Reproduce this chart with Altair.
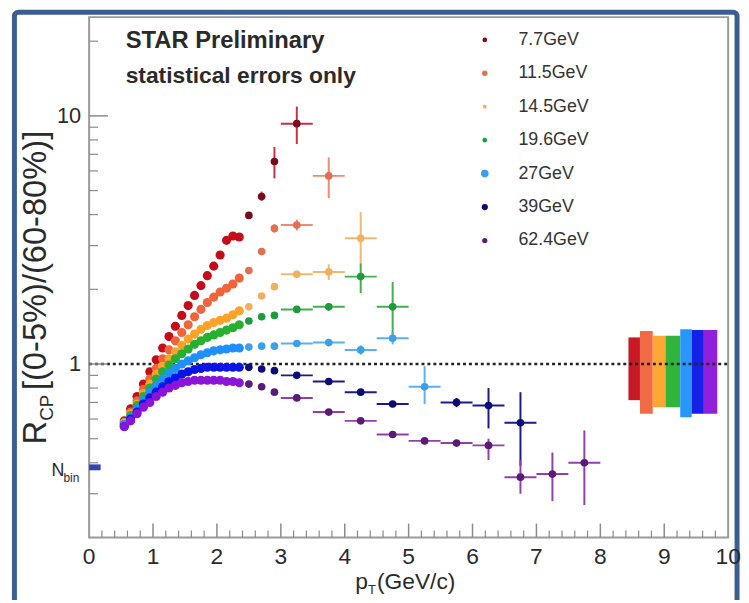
import altair as alt
import pandas as pd

# ---------------- data ----------------
energies = ["7.7GeV", "11.5GeV", "14.5GeV", "19.6GeV", "27GeV", "39GeV", "62.4GeV"]

band_colors = ["#c40d1a", "#f0643c", "#ffa22a", "#25b02f", "#1e90ff", "#0a14e6", "#8a14d8"]
point_colors = ["#7a0a1e", "#e0704f", "#f0b060", "#1f9a3c", "#3aa0e8", "#0c0c78", "#5a1a78"]
err_colors = ["#c83040", "#f08a70", "#f2b870", "#40b050", "#5ab0f0", "#1a1a8a", "#9040a8"]

# dense low-pT points (same pT grid for every energy)
pt_low = [0.55, 0.65, 0.75, 0.85, 0.95, 1.05, 1.15, 1.25, 1.35, 1.45,
          1.55, 1.65, 1.75, 1.85, 1.95, 2.05, 2.15, 2.25, 2.35]
low_7p7 = [0.59, 0.66, 0.74, 0.83, 0.93, 1.04, 1.16, 1.29, 1.42, 1.57,
           1.72, 1.89, 2.07, 2.27, 2.48, 2.75, 3.15, 3.28, 3.25]
low_11p5 = [0.58, 0.64, 0.71, 0.79, 0.87, 0.96, 1.05, 1.14, 1.24, 1.34,
            1.44, 1.55, 1.66, 1.77, 1.86, 1.95, 2.02, 2.10, 2.22]
low_14p5 = [0.58, 0.63, 0.69, 0.76, 0.83, 0.91, 0.98, 1.05, 1.12, 1.19,
            1.26, 1.32, 1.38, 1.43, 1.47, 1.50, 1.53, 1.58, 1.64]
low_19p6 = [0.57, 0.62, 0.68, 0.74, 0.80, 0.87, 0.93, 0.99, 1.05, 1.10,
            1.15, 1.20, 1.24, 1.28, 1.31, 1.34, 1.37, 1.40, 1.44]
low_27 = [0.57, 0.61, 0.66, 0.71, 0.77, 0.82, 0.87, 0.92, 0.96, 1.00,
          1.03, 1.06, 1.09, 1.11, 1.13, 1.14, 1.15, 1.16, 1.16]
low_39 = [0.56, 0.60, 0.64, 0.69, 0.73, 0.77, 0.81, 0.85, 0.88, 0.91,
          0.93, 0.95, 0.96, 0.97, 0.97, 0.97, 0.97, 0.97, 0.97]
low_62p4 = [0.56, 0.59, 0.63, 0.67, 0.70, 0.74, 0.77, 0.80, 0.82, 0.84,
            0.85, 0.86, 0.86, 0.86, 0.86, 0.86, 0.85, 0.85, 0.84]

# sparse high-pT points with statistical errors
hi_pt_7p7 = [2.5, 2.7, 2.9, 3.25]
hi_v_7p7 = [3.97, 4.73, 6.55, 9.3]
hi_lo_7p7 = [3.85, 4.55, 5.6, 7.7]
hi_hi_7p7 = [4.1, 4.95, 7.5, 10.9]
hi_xe_7p7 = [0, 0, 0, 0.25]

hi_pt_11p5 = [2.5, 2.7, 2.9, 3.25, 3.75]
hi_v_11p5 = [2.38, 2.84, 3.52, 3.63, 5.73]
hi_lo_11p5 = [2.32, 2.76, 3.38, 3.45, 4.66]
hi_hi_11p5 = [2.44, 2.92, 3.66, 3.82, 6.8]
hi_xe_11p5 = [0, 0, 0, 0.25, 0.25]

hi_pt_14p5 = [2.5, 2.7, 2.9, 3.25, 3.75, 4.25]
hi_v_14p5 = [1.70, 1.88, 2.05, 2.30, 2.35, 3.21]
hi_lo_14p5 = [1.67, 1.84, 2.0, 2.22, 2.18, 2.5]
hi_hi_14p5 = [1.73, 1.92, 2.1, 2.38, 2.52, 4.1]
hi_xe_14p5 = [0, 0, 0, 0.25, 0.25, 0.25]

hi_pt_19p6 = [2.5, 2.7, 2.9, 3.25, 3.75, 4.25, 4.75]
hi_v_19p6 = [1.49, 1.55, 1.57, 1.66, 1.70, 2.25, 1.70]
hi_lo_19p6 = [1.47, 1.53, 1.54, 1.62, 1.64, 1.93, 1.26]
hi_hi_19p6 = [1.51, 1.57, 1.60, 1.70, 1.76, 2.54, 2.14]
hi_xe_19p6 = [0, 0, 0, 0.25, 0.25, 0.25, 0.25]

hi_pt_27 = [2.5, 2.7, 2.9, 3.25, 3.75, 4.25, 4.75, 5.25]
hi_v_27 = [1.17, 1.18, 1.18, 1.21, 1.22, 1.14, 1.27, 0.81]
hi_lo_27 = [1.15, 1.16, 1.16, 1.18, 1.18, 1.09, 1.20, 0.69]
hi_hi_27 = [1.19, 1.20, 1.20, 1.24, 1.26, 1.19, 1.34, 0.98]
hi_xe_27 = [0, 0, 0, 0.25, 0.25, 0.25, 0.25, 0.25]

hi_pt_39 = [2.5, 2.7, 2.9, 3.25, 3.75, 4.25, 4.75, 5.75, 6.25, 6.75]
hi_v_39 = [0.97, 0.955, 0.94, 0.90, 0.85, 0.77, 0.69, 0.70, 0.68, 0.58]
hi_lo_39 = [0.95, 0.94, 0.92, 0.88, 0.83, 0.75, 0.67, 0.67, 0.55, 0.39]
hi_hi_39 = [0.99, 0.97, 0.96, 0.92, 0.87, 0.79, 0.71, 0.73, 0.80, 0.77]
hi_xe_39 = [0, 0, 0, 0.25, 0.25, 0.25, 0.25, 0.25, 0.25, 0.25]

hi_pt_62p4 = [2.5, 2.7, 2.9, 3.25, 3.75, 4.25, 4.75, 5.25, 5.75, 6.25, 6.75, 7.25, 7.75]
hi_v_62p4 = [0.83, 0.81, 0.77, 0.73, 0.64, 0.59, 0.52, 0.49, 0.48, 0.47, 0.35, 0.36, 0.40]
hi_lo_62p4 = [0.82, 0.80, 0.76, 0.72, 0.63, 0.58, 0.51, 0.48, 0.47, 0.41, 0.30, 0.28, 0.27]
hi_hi_62p4 = [0.84, 0.82, 0.78, 0.74, 0.65, 0.60, 0.53, 0.50, 0.49, 0.50, 0.41, 0.44, 0.54]
hi_xe_62p4 = [0, 0, 0, 0.25, 0.25, 0.25, 0.25, 0.25, 0.25, 0.25, 0.25, 0.25, 0.25]

# systematic-error boxes at right
sys_x0 = [8.44, 8.62, 8.82, 9.02, 9.25, 9.43, 9.62]
sys_x1 = [8.62, 8.82, 9.02, 9.25, 9.43, 9.62, 9.83]
sys_lo = [0.715, 0.63, 0.67, 0.67, 0.61, 0.63, 0.63]
sys_hi = [1.28, 1.36, 1.30, 1.30, 1.38, 1.37, 1.37]

# N_bin normalisation box
nbin_x = [0.0, 0.18]
nbin_y = [0.373, 0.394]

# axis ticks / labels
x_labels = [0, 1, 2, 3, 4, 5, 6, 7, 8, 9, 10]
y_labels = [1, 10]
x_major_ticks = [1, 2, 3, 4, 5, 6, 7, 8, 9]
x_minor_ticks = [i / 5 for i in range(1, 50) if i % 5]
y_major_ticks = [1, 10]
y_minor_ticks = [0.3, 0.4, 0.5, 0.6, 0.7, 0.8, 0.9, 2, 3, 4, 5, 6, 7, 8, 9, 20]

# ---------------- tables ----------------
lows = [low_7p7, low_11p5, low_14p5, low_19p6, low_27, low_39, low_62p4]
his = [
    (hi_pt_7p7, hi_v_7p7, hi_lo_7p7, hi_hi_7p7, hi_xe_7p7),
    (hi_pt_11p5, hi_v_11p5, hi_lo_11p5, hi_hi_11p5, hi_xe_11p5),
    (hi_pt_14p5, hi_v_14p5, hi_lo_14p5, hi_hi_14p5, hi_xe_14p5),
    (hi_pt_19p6, hi_v_19p6, hi_lo_19p6, hi_hi_19p6, hi_xe_19p6),
    (hi_pt_27, hi_v_27, hi_lo_27, hi_hi_27, hi_xe_27),
    (hi_pt_39, hi_v_39, hi_lo_39, hi_hi_39, hi_xe_39),
    (hi_pt_62p4, hi_v_62p4, hi_lo_62p4, hi_hi_62p4, hi_xe_62p4),
]

low_rows = []
for e, vals in zip(energies, lows):
    for p, v in zip(pt_low, vals):
        low_rows.append({"energy": e, "pt": p, "rcp": v})
low_df = pd.DataFrame(low_rows)

hi_rows = []
for e, (pts, vs, los, his_, xes) in zip(energies, his):
    for p, v, lo, hi, xe in zip(pts, vs, los, his_, xes):
        hi_rows.append({"energy": e, "pt": p, "rcp": v, "lo": lo, "hi": hi,
                        "xlo": p - xe, "xhi": p + xe})
hi_df = pd.DataFrame(hi_rows)

sys_df = pd.DataFrame({"energy": energies, "x0": sys_x0, "x1": sys_x1,
                       "lo": sys_lo, "hi": sys_hi})
nbin_df = pd.DataFrame({"x0": [nbin_x[0]], "x1": [nbin_x[1]],
                        "y0": [nbin_y[0]], "y1": [nbin_y[1]]})

# ---------------- layout ----------------
W, H = 646, 526
FONT = "Liberation Sans"
TXT = "#2a2a2a"

xscale = alt.Scale(domain=[0, 10], nice=False, zero=False)
yscale = alt.Scale(type="log", domain=[0.2, 25], nice=False)

col_band = alt.Color("energy:N", scale=alt.Scale(domain=energies, range=band_colors), legend=None)
col_err = alt.Stroke("energy:N", scale=alt.Scale(domain=energies, range=err_colors), legend=None)
col_pt = alt.Fill("energy:N", scale=alt.Scale(domain=energies, range=point_colors), legend=None)

one = alt.Data(values=[{}])

border = alt.Chart(one).mark_rect(fill="transparent", stroke="#3a5d92", strokeWidth=5,
                                  cornerRadius=4).encode(
    x=alt.value(-75.5), x2=alt.value(655), y=alt.value(-5), y2=alt.value(640))

sys_boxes = alt.Chart(sys_df).mark_rect(opacity=0.95).encode(
    x=alt.X("x0:Q", scale=xscale, axis=None), x2="x1:Q",
    y=alt.Y("lo:Q", scale=yscale, axis=None), y2="hi:Q",
    color=col_band)

unity = alt.Chart(one).mark_rule(strokeDash=[3, 3], strokeWidth=2.5, color="#222").encode(
    y=alt.datum(1, scale=yscale, axis=None), x=alt.value(0), x2=alt.value(W))

band = alt.Chart(low_df).mark_circle(size=85, opacity=1).encode(
    x=alt.X("pt:Q", scale=xscale, axis=None),
    y=alt.Y("rcp:Q", scale=yscale, axis=None),
    color=col_band)

xerr = alt.Chart(hi_df).mark_rule(strokeWidth=2).encode(
    x=alt.X("xlo:Q", scale=xscale, axis=None), x2="xhi:Q",
    y=alt.Y("rcp:Q", scale=yscale, axis=None), stroke=col_err)

yerr = alt.Chart(hi_df).mark_rule(strokeWidth=2).encode(
    x=alt.X("pt:Q", scale=xscale, axis=None),
    y=alt.Y("lo:Q", scale=yscale, axis=None), y2="hi:Q", stroke=col_err)

hipts = alt.Chart(hi_df).mark_circle(size=60, opacity=1).encode(
    x=alt.X("pt:Q", scale=xscale, axis=None),
    y=alt.Y("rcp:Q", scale=yscale, axis=None), fill=col_pt)

nbin = alt.Chart(nbin_df).mark_rect(color="#3344b0").encode(
    x=alt.X("x0:Q", scale=xscale, axis=None), x2="x1:Q",
    y=alt.Y("y0:Q", scale=yscale, axis=None), y2="y1:Q")

TICK = "#8a8a8a"
ytm = alt.Chart(pd.DataFrame({"v": y_major_ticks})).mark_rule(color=TICK, strokeWidth=1.5).encode(
    y=alt.Y("v:Q", scale=yscale, axis=None), x=alt.value(0), x2=alt.value(19))
ytn = alt.Chart(pd.DataFrame({"v": y_minor_ticks})).mark_rule(color=TICK, strokeWidth=1.2).encode(
    y=alt.Y("v:Q", scale=yscale, axis=None), x=alt.value(0), x2=alt.value(9))
xtm = alt.Chart(pd.DataFrame({"v": x_major_ticks})).mark_rule(color=TICK, strokeWidth=1.5).encode(
    x=alt.X("v:Q", scale=xscale, axis=None), y=alt.value(H), y2=alt.value(H - 14))
xtn = alt.Chart(pd.DataFrame({"v": x_minor_ticks})).mark_rule(color=TICK, strokeWidth=1.2).encode(
    x=alt.X("v:Q", scale=xscale, axis=None), y=alt.value(H), y2=alt.value(H - 7))

# tick labels, drawn through the scales
xlab = alt.Chart(pd.DataFrame({"v": x_labels, "t": [str(v) for v in x_labels]})).mark_text(
    font=FONT, fontSize=23, color=TXT, align="center", baseline="alphabetic").encode(
    x=alt.X("v:Q", scale=xscale, axis=None), y=alt.value(H + 27), text="t:N")
ylab = alt.Chart(pd.DataFrame({"v": y_labels, "t": [str(v) for v in y_labels]})).mark_text(
    font=FONT, fontSize=22, color=TXT, align="right", baseline="middle").encode(
    y=alt.Y("v:Q", scale=yscale, axis=None), x=alt.value(-8), text="t:N")


def label(text, x, y, size, bold=False, angle=0, align="left", baseline="alphabetic", color=TXT):
    kw = dict(font=FONT, fontSize=size, color=color, align=align, baseline=baseline)
    if bold:
        kw["fontWeight"] = "bold"
    if angle:
        kw["angle"] = angle
    return alt.Chart(one).mark_text(**kw).encode(
        x=alt.value(x), y=alt.value(y), text=alt.value(text))


texts = [
    label("STAR Preliminary", 37, 31, 24, bold=True),
    label("statistical errors only", 37, 67, 23, bold=True),
    # y title
    label("R", -44, 432, 33, angle=270),
    label("CP", -37, 408, 19, angle=270),
    label("[(0-5%)/(60-80%)]", -44, 377, 33, angle=270),
    # x title
    label("p", 269, 578, 23),
    label("T", 282, 583, 13),
    label("(GeV/c)", 291, 578, 23),
    # N_bin
    label("N", -38, 464, 18),
    label("bin", -26, 470, 12),
]

# legend (one row per energy)
legend_sizes = [22, 30, 16, 22, 60, 40, 28]
legend_layers = []
for i, e in enumerate(energies):
    yrow = 23 + i * 33.8
    legend_layers.append(
        alt.Chart(one).mark_circle(size=legend_sizes[i], opacity=1, color=point_colors[i]).encode(
            x=alt.value(400), y=alt.value(yrow)))
    legend_layers.append(label(e, 434, yrow, 18, baseline="middle", color="#333"))

chart = alt.layer(
    border, sys_boxes, unity, band, xerr, yerr, hipts, nbin,
    ytm, ytn, xtm, xtn, xlab, ylab, *texts, *legend_layers
).properties(
    width=W, height=H,
    autosize=alt.AutoSizeParams(type="none"),
    padding={"left": 82, "top": 6, "right": 13, "bottom": 60},
).configure_view(
    stroke="#9a9a9a", strokeWidth=2
)

chart.save("out.html", embed_options={"renderer": "svg", "actions": False})
